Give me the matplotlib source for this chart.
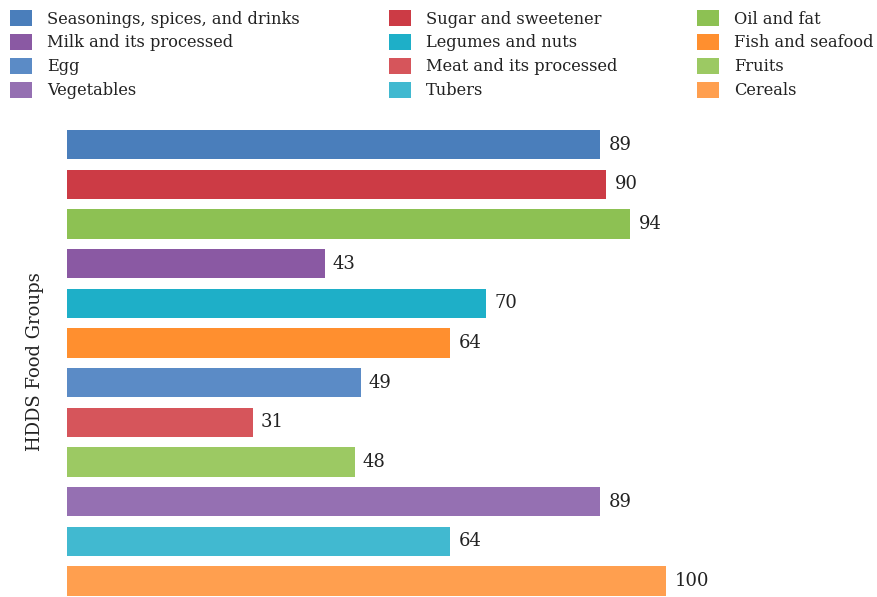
import matplotlib
matplotlib.use("Agg")
import matplotlib.pyplot as plt
from matplotlib.patches import Patch

plt.rcParams['font.family'] = ['DejaVu Serif']

# bars, top to bottom
groups = ["Seasonings, spices, and drinks", "Sugar and sweetener", "Oil and fat",
          "Milk and its processed", "Legumes and nuts", "Fish and seafood",
          "Egg", "Meat and its processed", "Fruits",
          "Vegetables", "Tubers", "Cereals"]
values = [89, 90, 94, 43, 70, 64, 49, 31, 48, 89, 64, 100]
colors = ["#4a7ebb", "#cc3b45", "#8dc153", "#8a59a3", "#1eafc8", "#ff8f2f",
          "#5b8bc6", "#d6555b", "#9cc963", "#9570b2", "#41b9d0", "#ff9f4f"]

W, H = 877, 597
fig = plt.figure(figsize=(W / 100, H / 100), dpi=100)

# axes placement in pixels
left_px = 67
px_per_unit = 5.99
xmax = 130
top_px = 124.66
ax = fig.add_axes([left_px / W, 0, px_per_unit * xmax / W, (H - top_px) / H])

pos = list(range(len(groups)))
ax.barh(pos, values, height=0.74, color=colors)
ax.set_xlim(0, xmax)
ax.set_ylim(11.403, -0.5)
for p, v in zip(pos, values):
    ax.text(v + 1.4, p, str(v), va='center', ha='left', fontsize=13, color='#222222')

for s in ax.spines.values():
    s.set_visible(False)
ax.set_xticks([])
ax.set_yticks([])

fig.text(35 / W, 1 - 362 / H, "HDDS Food Groups", rotation=90, ha='center', va='center',
         fontsize=13, color='#222222')

# legend: three columns, filled row by row in the bar order
col_x = [10, 389, 697]
for c in range(3):
    idx = [c + 3 * r for r in range(4)]
    handles = [Patch(facecolor=colors[i], edgecolor='none') for i in idx]
    labels = [groups[i] for i in idx]
    fig.legend(handles, labels, loc='upper left', bbox_to_anchor=(col_x[c] / W, 1 - 10 / H),
               frameon=False, fontsize=11.7, handlelength=1.35, handleheight=1.15,
               handletextpad=0.95, labelspacing=0.39, borderaxespad=0, borderpad=0,
               labelcolor='#222222')

fig.savefig("out.png", dpi=100)
